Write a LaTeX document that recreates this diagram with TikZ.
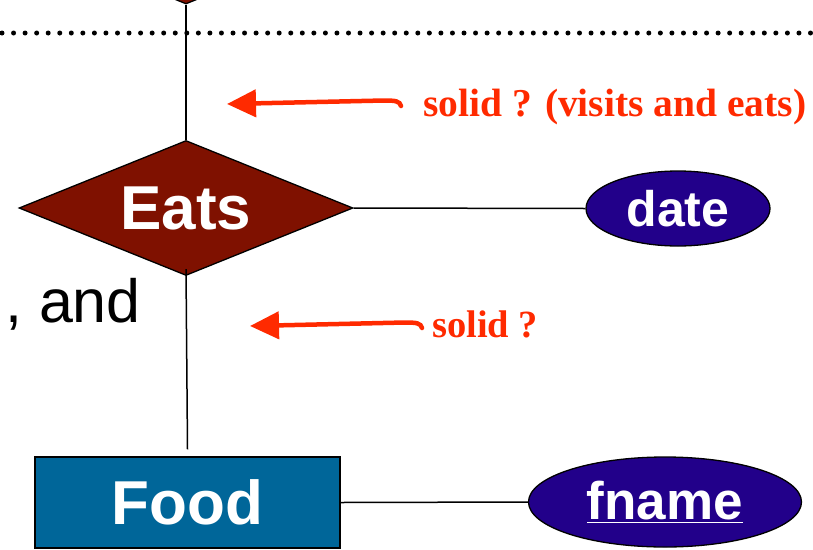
\documentclass[tikz,border=0pt]{standalone}
\usepackage{fontspec}
\setmainfont{Liberation Sans}
\newfontfamily\notefont{Liberation Serif}
\usetikzlibrary{shapes.geometric,arrows.meta}

\definecolor{relred}{HTML}{7F1100}
\definecolor{attrblue}{HTML}{22008A}
\definecolor{entblue}{HTML}{006699}
\definecolor{notered}{HTML}{FF2A00}

\tikzset{
  relbox/.style={diamond, aspect=2.47, draw=black, line width=1.3pt, fill=relred,
    minimum width=334pt, minimum height=135pt, inner sep=0pt,
    text=white, font=\fontsize{62}{62}\selectfont\bfseries},
  entbox/.style={rectangle, draw=black, line width=1.3pt, fill=entblue,
    minimum width=305pt, minimum height=91pt, inner sep=0pt,
    text=white, font=\fontsize{62}{62}\selectfont\bfseries},
  attrbox/.style={ellipse, draw=black, line width=1.3pt, fill=attrblue,
    inner sep=0pt, text=white},
  link/.style={draw=black, line width=1.5pt},
  notetext/.style={text=notered, inner sep=0pt},
  notearrow/.style={draw=notered, line width=4.5pt, line cap=round,
    -{Triangle[length=29pt,width=27pt]}},
}

\begin{document}
\begin{tikzpicture}[x=1pt,y=-1pt]
\useasboundingbox (0,0) rectangle (813,549);
\clip (0,0) rectangle (813,549);

% dotted separator
\draw[line width=5pt, line cap=round, dash pattern=on 0pt off 11.55pt]
  (2,33) -- (813,33);

% relationships, entity and attributes
\node[relbox] (visits) at (186,-63.5) {};
\node[relbox] (eats) at (186,208) {Eats};
\node[entbox] (food) at (187.5,502.5) {Food};
\node[attrbox, minimum width=184pt, minimum height=75pt,
  font=\fontsize{50}{50}\selectfont\bfseries] (date) at (678,208.5) {date};
\node[attrbox, minimum width=273pt, minimum height=90pt,
  font=\fontsize{53}{53}\selectfont\bfseries] (fname) at (665,502)
  {\underline{fname}};

% connectors
\draw[link] (visits.south) -- (eats.north);
\draw[link] ([yshift=7pt]eats.south) -- ([yshift=7pt]food.north);
\draw[link] (eats.east) -- (date.west);
\draw[link] (food.east) -- (fname.west);

% body text
\node[anchor=base west, inner sep=0pt, font=\fontsize{61}{61}\selectfont]
  (andtext) at (5,322) {, and};

% annotations
\node[notetext, anchor=base west,
  font=\fontsize{39.5}{39.5}\selectfont\notefont\bfseries] (note1)
  at (423,116) {solid ? (visits and eats)};
\node[notetext, anchor=base west,
  font=\fontsize{38.5}{38.5}\selectfont\notefont\bfseries] (note2)
  at (432,337) {solid ?};

\coordinate (tail1) at (401,106);
\coordinate (tip1) at (227,104);
\coordinate (tail2) at (422,328);
\coordinate (tip2) at (250,326);

\draw[notearrow] (tail1) .. controls (400,101) and (395,100.5) .. (384,100.5)
  -- (tip1);
\draw[notearrow] (tail2) .. controls (421,323) and (416,322.5) .. (405,322.5)
  -- (tip2);
\end{tikzpicture}
\end{document}
